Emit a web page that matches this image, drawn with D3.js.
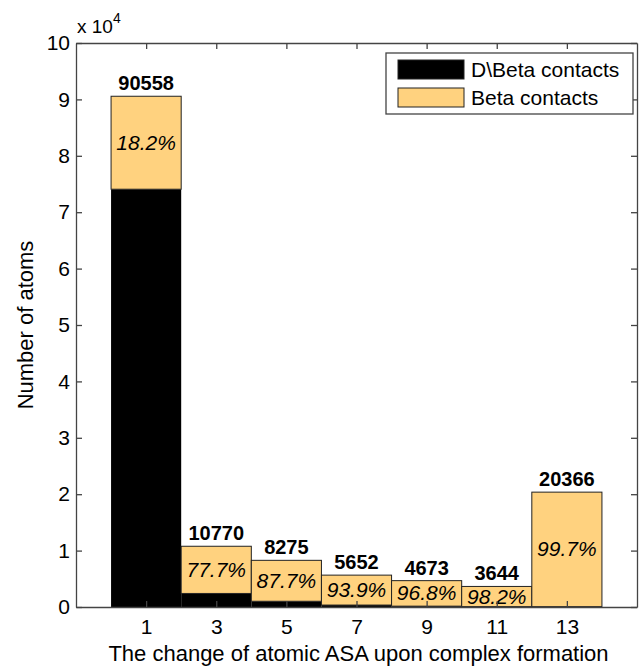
<!DOCTYPE html>
<html>
<head>
<meta charset="utf-8">
<script src="https://cdn.jsdelivr.net/npm/d3@7"></script>
<style>
  body { margin: 0; background: #fff; }
  svg text { font-family: "Liberation Sans", Arial, sans-serif; }
</style>
</head>
<body>
<svg id="chart" width="643" height="666"></svg>
<script>
// bin centres (change of ASA)
var bins = [1, 3, 5, 7, 9, 11, 13];
// total atoms per bin (bold labels)
var totals = [90558, 10770, 8275, 5652, 4673, 3644, 20366];
// D\Beta contacts (black part)
var dbeta = [74076, 2402, 1018, 345, 150, 66, 61];
// Beta contacts (orange part)
var beta = [16482, 8368, 7257, 5307, 4523, 3578, 20305];
// share of beta contacts
var pctLabels = ["18.2%", "77.7%", "87.7%", "93.9%", "96.8%", "98.2%", "99.7%"];
var yTicks = [0, 1, 2, 3, 4, 5, 6, 7, 8, 9, 10];

var svg = d3.select("#chart");
// note: "top" is taken by window.top, so use plotTop
var plotLeft = 76, plotRight = 637, plotTop = 43, plotBottom = 607;
var axisColor = "#444";

var x = d3.scaleLinear().domain([-1, 15]).range([plotLeft, plotRight]);
var y = d3.scaleLinear().domain([0, 100000]).range([plotBottom, plotTop]);

var rows = bins.map(function (b, i) {
    return { bin: b, total: totals[i], dbeta: dbeta[i], beta: beta[i], pct: pctLabels[i] };
});

// black (D\Beta) part
svg.selectAll("rect.dbeta").data(rows).enter().append("rect")
    .attr("class", "dbeta")
    .attr("x", function (d) { return x(d.bin - 1); })
    .attr("width", function (d) { return x(d.bin + 1) - x(d.bin - 1); })
    .attr("y", function (d) { return y(d.dbeta); })
    .attr("height", function (d) { return y(0) - y(d.dbeta); })
    .attr("fill", "#000");

// orange (Beta) part stacked on top
svg.selectAll("rect.beta").data(rows).enter().append("rect")
    .attr("class", "beta")
    .attr("x", function (d) { return x(d.bin - 1); })
    .attr("width", function (d) { return x(d.bin + 1) - x(d.bin - 1); })
    .attr("y", function (d) { return y(d.dbeta + d.beta); })
    .attr("height", function (d) { return y(d.dbeta) - y(d.dbeta + d.beta); })
    .attr("fill", "#ffd27f")
    .attr("stroke", "#222")
    .attr("stroke-width", 1);

// totals above bars
svg.selectAll("text.total").data(rows).enter().append("text")
    .attr("x", function (d) { return x(d.bin); })
    .attr("y", function (d) { return y(d.total) - 6; })
    .attr("text-anchor", "middle")
    .attr("font-size", 20)
    .attr("font-weight", "bold")
    .text(function (d) { return d.total; });

// percentage inside orange part
svg.selectAll("text.pct").data(rows).enter().append("text")
    .attr("x", function (d) { return x(d.bin); })
    .attr("y", function (d) {
        var mid = (y(d.dbeta) + y(d.dbeta + d.beta)) / 2;
        return mid + 7;
    })
    .attr("text-anchor", "middle")
    .attr("font-size", 21)
    .attr("font-style", "italic")
    .text(function (d) { return d.pct; });

// axes (box style, ticks inward)
var xAxis = d3.axisBottom(x).tickValues(bins).tickSizeInner(-6).tickSizeOuter(0).tickPadding(12);
var yAxis = d3.axisLeft(y).tickValues(yTicks.map(function (t) { return t * 10000; }))
    .tickFormat(function (v) { return v / 10000; })
    .tickSizeInner(-6).tickSizeOuter(0).tickPadding(6);

var gx = svg.append("g").attr("transform", "translate(0," + plotBottom + ")").call(xAxis);
var gy = svg.append("g").attr("transform", "translate(" + plotLeft + ",0)").call(yAxis);
var gxt = svg.append("g").attr("transform", "translate(0," + plotTop + ")")
    .call(d3.axisTop(x).tickValues(bins).tickSizeInner(-6).tickSizeOuter(0).tickFormat(""));
var gyr = svg.append("g").attr("transform", "translate(" + plotRight + ",0)")
    .call(d3.axisRight(y).tickValues(yTicks.map(function (t) { return t * 10000; }))
        .tickSizeInner(-6).tickSizeOuter(0).tickFormat(""));

[gx, gy, gxt, gyr].forEach(function (g) {
    g.select(".domain").attr("stroke", axisColor).attr("stroke-width", 1.3);
    g.selectAll(".tick line").attr("stroke", axisColor).attr("stroke-width", 1.3);
    g.selectAll("text").attr("font-size", 21).attr("fill", "#000")
        .attr("font-family", "Liberation Sans, Arial, sans-serif");
});

// exponent label
var expo = svg.append("text").attr("x", 77).attr("y", 33).attr("font-size", 19);
expo.append("tspan").text("x 10");
expo.append("tspan").attr("dy", -10).attr("font-size", 14).text("4");

// axis titles
svg.append("text")
    .attr("x", (plotLeft + plotRight) / 2 + 2)
    .attr("y", 661)
    .attr("text-anchor", "middle")
    .attr("font-size", 22)
    .text("The change of atomic ASA upon complex formation");

svg.append("text")
    .attr("transform", "translate(33," + (plotTop + plotBottom) / 2 + ") rotate(-90)")
    .attr("text-anchor", "middle")
    .attr("font-size", 22)
    .text("Number of atoms");

// legend
var lg = svg.append("g");
lg.append("rect").attr("x", 386).attr("y", 53).attr("width", 247).attr("height", 61)
    .attr("fill", "#fff").attr("stroke", axisColor).attr("stroke-width", 1.3);
var legendItems = [
    { label: "D\\Beta contacts", color: "#000" },
    { label: "Beta contacts", color: "#ffd27f" }
];
legendItems.forEach(function (it, i) {
    var yy = 60 + i * 28;
    lg.append("rect").attr("x", 398).attr("y", yy).attr("width", 66).attr("height", 19)
        .attr("fill", it.color).attr("stroke", "#222").attr("stroke-width", 1);
    lg.append("text").attr("x", 471).attr("y", yy + 17).attr("font-size", 21).text(it.label);
});
</script>
</body>
</html>
